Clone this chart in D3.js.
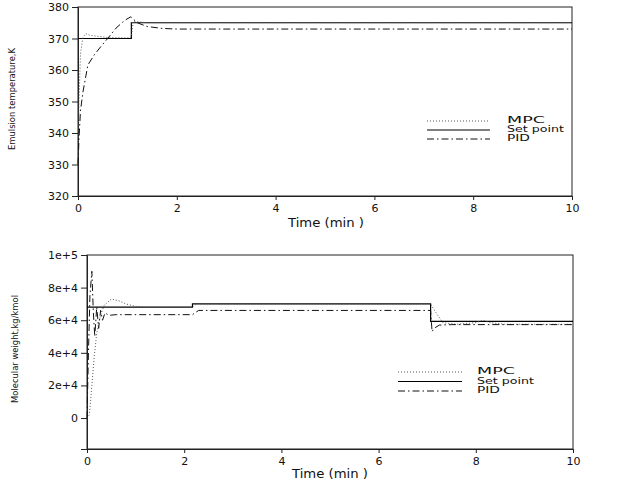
<!DOCTYPE html>
<html><head><meta charset="utf-8">
<script src="https://cdn.jsdelivr.net/npm/d3@7/dist/d3.min.js"></script>
<style>
body{margin:0;background:#fff;}
svg{display:block;font-family:"DejaVu Sans",sans-serif;}
</style></head>
<body><svg id="c" width="620" height="482"></svg>
<script>
// ---------- data: top panel (emulsion temperature, K) ----------
const tempSetT = [0, 1.08, 1.08, 10];
const tempSetV = [370, 370, 375, 375];
const tempMpcT = [0, 0.02, 0.05, 0.1, 0.16, 0.25, 0.4, 0.6, 1.0, 1.08, 1.12, 1.2, 1.4, 2, 10];
const tempMpcV = [330, 350, 365, 370.5, 371.5, 371, 370.7, 370.3, 370.2, 370.5, 375.5, 375.3, 375, 375, 375];
const tempPidT = [0, 0.02, 0.05, 0.1, 0.2, 0.33, 0.46, 0.6, 0.77, 0.95, 1.07, 1.2, 1.4, 1.7, 2.0, 10];
const tempPidV = [330, 338, 347, 353, 361.6, 364.8, 367.4, 370, 373.3, 375.8, 376.9, 375, 373.8, 373.2, 373, 373];
const tempTicks = [320, 330, 340, 350, 360, 370, 380];

// ---------- data: bottom panel (molecular weight) ----------
const mwSetT = [0, 2.17, 2.17, 7.07, 7.07, 10];
const mwSetV = [68000, 68000, 70000, 70000, 59300, 59300];
const mwMpcT = [0, 0.05, 0.1, 0.15, 0.2, 0.27, 0.35, 0.5, 0.65, 0.8, 1.0, 1.2, 2.17, 2.25, 2.4, 7.07, 7.15, 7.32, 7.6, 8.0, 8.15, 8.3, 8.6, 10];
const mwMpcV = [0, 2000, 20000, 38000, 52000, 62000, 69000, 73000, 72000, 70000, 68500, 68000, 68000, 70000, 70000, 70000, 66000, 58500, 57500, 58500, 60000, 58500, 57500, 57500];
const mwPidT = [0, 0.03, 0.06, 0.1, 0.13, 0.16, 0.2, 0.24, 0.28, 0.32, 0.37, 0.45, 0.6, 2.17, 2.22, 2.3, 7.07, 7.1, 7.14, 7.25, 7.5, 10];
const mwPidV = [0, 40000, 75000, 90000, 65000, 50000, 68000, 55000, 66000, 60000, 64500, 63000, 63400, 63400, 64500, 66000, 66000, 53000, 55000, 57000, 57300, 57300];
const mwTicks = [0, 20000, 40000, 60000, 80000, 100000];
const mwTickLabels = ["0", "2e+4", "4e+4", "6e+4", "8e+4", "1e+5"];

const timeTicks = [0, 2, 4, 6, 8, 10];
const seriesNames = ["MPC", "Set point", "PID"];

const svg = d3.select("#c");
const styles = {
  "MPC": {stroke: "#555", width: 1, dash: "1,2"},
  "Set point": {stroke: "#000", width: 1.2, dash: null},
  "PID": {stroke: "#111", width: 1, dash: "7,3,1.5,3"}
};

function panel(cfg) {
  const g = svg.append("g");
  const x = d3.scaleLinear().domain([0, 10]).range([cfg.left, cfg.right]);
  const y = d3.scaleLinear().domain(cfg.ydom).range([cfg.bottom, cfg.top]);

  g.append("rect").attr("x", cfg.left).attr("y", cfg.top)
    .attr("width", cfg.right - cfg.left).attr("height", cfg.bottom - cfg.top)
    .attr("fill", "none").attr("stroke", "#222").attr("stroke-width", 1);

  const yAxis = d3.axisLeft(y).tickValues(cfg.yticks).tickSize(6).tickPadding(3)
    .tickFormat((d, i) => cfg.ylabels ? cfg.ylabels[i] : d);
  const ya = g.append("g").attr("transform", `translate(${cfg.left},0)`).call(yAxis);
  const xAxis = d3.axisBottom(x).tickValues(timeTicks).tickSize(4).tickPadding(4);
  const xa = g.append("g").attr("transform", `translate(0,${cfg.bottom})`).call(xAxis);
  [ya, xa].forEach(a => {
    a.select(".domain").attr("stroke", "#222");
    a.selectAll(".tick line").attr("stroke", "#222");
    a.selectAll(".tick text").attr("font-family", "DejaVu Sans").attr("font-size", 11).attr("fill", "#111");
  });

  g.append("text").attr("x", cfg.xTitleX).attr("y", cfg.xTitleY).attr("text-anchor", "middle")
    .attr("font-size", 12).attr("fill", "#111")
    .attr("textLength", 76).attr("lengthAdjust", "spacingAndGlyphs").text("Time (min )");
  g.append("text").attr("transform", `translate(${cfg.yTitleX},${cfg.yTitleY}) rotate(-90)`)
    .attr("text-anchor", "middle").attr("font-size", 9).attr("fill", "#111")
    .attr("textLength", cfg.yTitleLen).attr("lengthAdjust", "spacingAndGlyphs").text(cfg.yTitle);

  const line = d3.line().x(d => x(d[0])).y(d => y(d[1]));
  cfg.series.forEach(s => {
    const st = styles[s.name];
    g.append("path").datum(d3.zip(s.t, s.v)).attr("d", line)
      .attr("fill", "none").attr("stroke", st.stroke).attr("stroke-width", st.width)
      .attr("stroke-dasharray", st.dash);
  });

  const lens = {"MPC": 38, "Set point": 57, "PID": 23};
  seriesNames.forEach((n, i) => {
    const st = styles[n];
    const ly = cfg.legY + i * cfg.legStep;
    g.append("line").attr("x1", cfg.legX1).attr("x2", cfg.legX2).attr("y1", ly).attr("y2", ly)
      .attr("stroke", st.stroke).attr("stroke-width", st.width).attr("stroke-dasharray", st.dash);
    g.append("text").attr("x", cfg.legTX).attr("y", ly + 2).attr("font-size", 8.5).attr("fill", "#111")
      .attr("textLength", lens[n]).attr("lengthAdjust", "spacingAndGlyphs").text(n);
  });
}

panel({
  left: 78, right: 572, top: 7, bottom: 196, ydom: [320, 380], yticks: tempTicks,
  xTitleX: 326, xTitleY: 227, yTitleX: 15, yTitleY: 99, yTitleLen: 102,
  yTitle: "Emulsion temperature,K",
  series: [
    {name: "Set point", t: tempSetT, v: tempSetV},
    {name: "MPC", t: tempMpcT, v: tempMpcV},
    {name: "PID", t: tempPidT, v: tempPidV}
  ],
  legX1: 427, legX2: 490, legTX: 507, legY: 121, legStep: 9
});

panel({
  left: 87, right: 573, top: 255, bottom: 449, ydom: [-19000, 100000], yticks: mwTicks, ylabels: mwTickLabels,
  xTitleX: 330, xTitleY: 478, yTitleX: 18, yTitleY: 349, yTitleLen: 108,
  yTitle: "Molecular weight,kg/kmol",
  series: [
    {name: "Set point", t: mwSetT, v: mwSetV},
    {name: "MPC", t: mwMpcT, v: mwMpcV},
    {name: "PID", t: mwPidT, v: mwPidV}
  ],
  legX1: 398, legX2: 462, legTX: 477, legY: 372, legStep: 9.5
});
</script></body></html>
